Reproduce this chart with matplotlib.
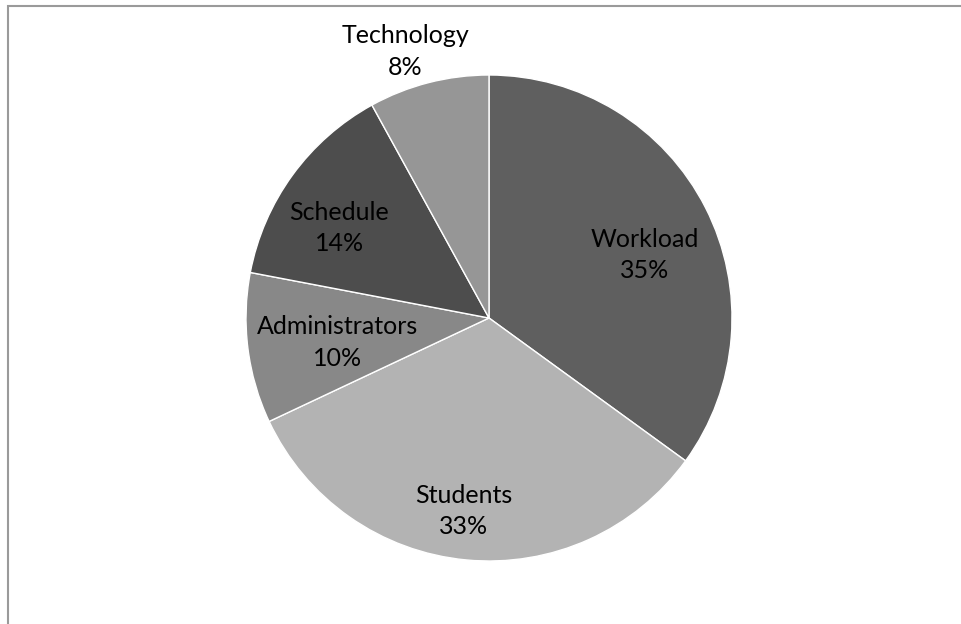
import numpy as np
import matplotlib.pyplot as plt
from matplotlib.patches import Rectangle

categories = ["Workload", "Students", "Administrators", "Schedule", "Technology"]
shares = [35, 33, 10, 14, 8]
colors = ["#5f5f5f", "#b3b3b3", "#888888", "#4d4d4d", "#969696"]
# how far out each label sits (fraction of radius) and a small angular nudge
label_dist = [0.69, 0.80, 0.63, 0.72, 1.15]
label_nudge = [-5, -2, 2, 5, 3]

W, H = 962, 624
fig = plt.figure(figsize=(W / 100, H / 100), dpi=100)
ax = fig.add_axes([0, 0, 1, 1])

# chart area border (only top and left edges fall inside the image)
fig.patches.append(Rectangle((8 / W, -0.1), 1.2, (H - 6) / H + 0.1,
                             transform=fig.transFigure, fill=False,
                             edgecolor="#9a9a9a", linewidth=1.5))

cx, cy, R = 489, H - 318, 243
wedges, _ = ax.pie(shares, colors=colors, startangle=90, counterclock=False,
                   center=(cx, cy), radius=R, frame=True,
                   wedgeprops=dict(edgecolor="white", linewidth=1))
ax.set_xlim(0, W)
ax.set_ylim(0, H)
ax.set_aspect("equal")
ax.axis("off")

for w, name, val, d, nudge in zip(wedges, categories, shares, label_dist, label_nudge):
    ang = np.deg2rad((w.theta1 + w.theta2) / 2 + nudge)
    x = cx + d * R * np.cos(ang)
    y = cy + d * R * np.sin(ang)
    ax.text(x, y, f"{name}\n{val}%", ha="center", va="center",
            fontsize=18, family=["Lato", "DejaVu Sans"], color="black",
            linespacing=1.45)

fig.savefig("out.png", dpi=100)
